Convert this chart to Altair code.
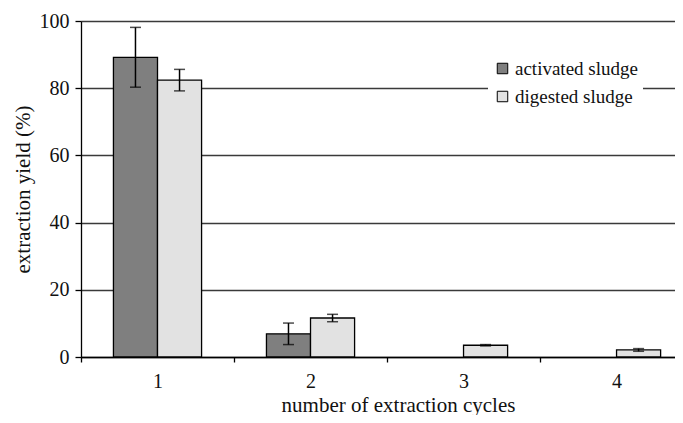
import altair as alt
import pandas as pd

cycles = [1, 2, 3, 4]
series_names = ["activated sludge", "digested sludge"]
activated = [89.2, 6.9, None, None]
activated_err = [8.9, 3.2, None, None]
digested = [82.4, 11.6, 3.5, 2.1]
digested_err = [3.2, 1.1, 0.2, 0.4]
y_ticks = [0, 20, 40, 60, 80, 100]
x_ticks = [0.5, 1, 1.5, 2, 2.5, 3, 3.5, 4]

rows = []
for c, v, e in zip(cycles, activated, activated_err):
    if v is not None:
        rows.append({"cycle": c, "series": series_names[0], "value": v, "err": e, "side": -1})
for c, v, e in zip(cycles, digested, digested_err):
    if v is not None:
        rows.append({"cycle": c, "series": series_names[1], "value": v, "err": e, "side": 1})
df = pd.DataFrame(rows)

FONT = "Liberation Serif"
BW = 0.288

base = alt.Chart(df).transform_calculate(
    xs=f"datum.cycle + (datum.side < 0 ? -{BW} : 0)",
    xe=f"datum.cycle + (datum.side < 0 ? 0 : {BW})",
    xc=f"datum.cycle + datum.side * {BW/2}",
    lo="datum.value - datum.err",
    hi="datum.value + datum.err",
    base0="0",
)

xscale = alt.Scale(domain=[0.5, 4.382], nice=False, zero=False)
yscale = alt.Scale(domain=[0, 100], nice=False)

bars = base.mark_bar(stroke="black", strokeWidth=1.3).encode(
    x=alt.X("xs:Q", scale=xscale, axis=alt.Axis(
        values=x_ticks,
        labelExpr="datum.value % 1 === 0 ? format(datum.value, 'd') : ''",
        tickOpacity={"condition": {"test": "datum.value % 1 !== 0", "value": 1}, "value": 0},
        grid=False, domainColor="black", domainWidth=1.3, tickColor="black", tickWidth=1.3,
        tickSize=5, labelPadding=9, labelFont=FONT, labelFontSize=20, labelColor="#111",
        title="number of extraction cycles", titleFont=FONT, titleFontSize=21,
        titleFontWeight="normal", titleColor="#111",
        titleX=317, titleY=54, titleAlign="center", titleBaseline="alphabetic")),
    x2="xe:Q",
    y=alt.Y("value:Q", scale=yscale, axis=alt.Axis(
        values=y_ticks, grid=True, gridColor="#3a3a3a", gridWidth=1.4,
        domainColor="black", domainWidth=1.3, tickColor="black", tickWidth=1.3, tickSize=6,
        labelPadding=6, labelFont=FONT, labelFontSize=20, labelColor="#111",
        title="extraction yield (%)", titleFont=FONT, titleFontSize=21,
        titleFontWeight="normal", titleColor="#111", titlePadding=6)),
    y2="base0:Q",
    color=alt.Color("series:N", scale=alt.Scale(domain=series_names, range=["#7f7f7f", "#e2e2e2"]),
                    legend=alt.Legend(orient="none", legendX=407, legendY=33, title=None,
                                      fillColor="white", padding=5, labelFont=FONT,
                                      labelFontSize=19, labelColor="#111", symbolType="square",
                                      symbolSize=110, symbolStrokeColor="black",
                                      symbolStrokeWidth=1, rowPadding=8, labelOffset=3)),
)

err_rule = base.mark_rule(color="black", strokeWidth=1.5).encode(
    x="xc:Q", y="lo:Q", y2="hi:Q")
cap_lo = base.mark_tick(color="black", thickness=1.5, size=11, orient="horizontal").encode(
    x="xc:Q", y="lo:Q")
cap_hi = base.mark_tick(color="black", thickness=1.5, size=11, orient="horizontal").encode(
    x="xc:Q", y="hi:Q")

chart = alt.layer(bars, err_rule, cap_lo, cap_hi).properties(
    width=594, height=336,
    autosize=alt.AutoSizeParams(type="none"),
    padding={"left": 73, "top": 13, "right": 0, "bottom": 58},
).configure_view(stroke=None)

chart.save("out.html", embed_options={"renderer": "svg", "actions": False})
